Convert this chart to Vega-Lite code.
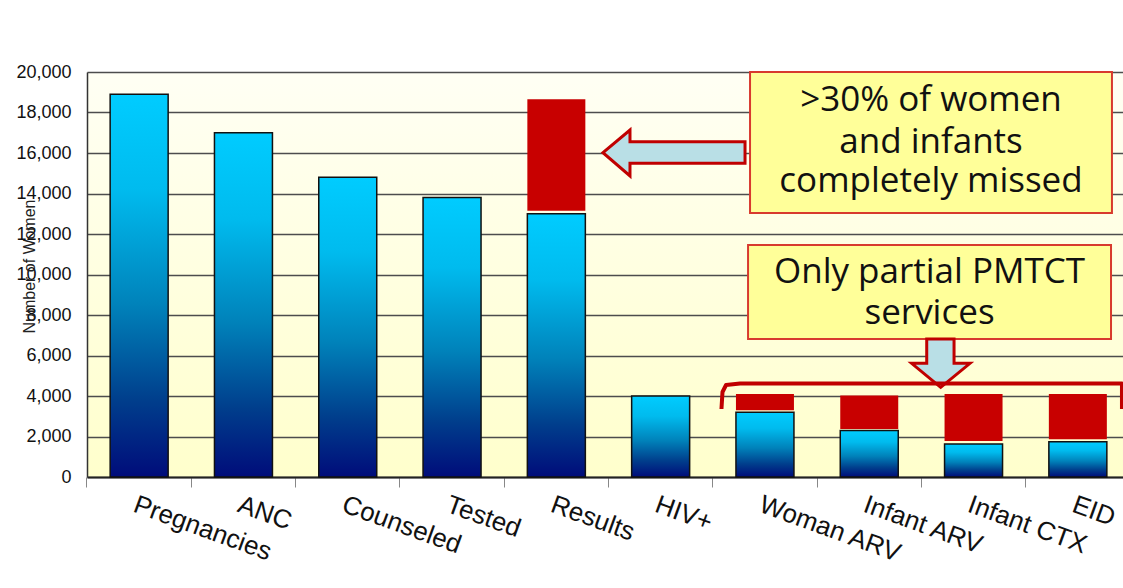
{
  "$schema": "https://vega.github.io/schema/vega-lite/v6.json",
  "autosize": {"type": "none"},
  "padding": {"left": 87, "top": 72, "right": 0, "bottom": 111},
  "width": 1036,
  "height": 405,
  "background": "#FFFFFF",
  "config": {
    "view": {
      "stroke": null,
      "fill": {"gradient": "linear", "x1": 0, "y1": 0, "x2": 0, "y2": 1,
        "stops": [{"offset": 0, "color": "#FFFFF4"}, {"offset": 1, "color": "#FFFFCC"}]}
    },
    "axisY": {
      "values": [0, 2000, 4000, 6000, 8000, 10000, 12000, 14000, 16000, 18000, 20000],
      "format": ",d",
      "grid": true, "gridColor": "#4d4d4d", "gridWidth": 1.3,
      "domain": true, "domainColor": "#333333", "domainWidth": 1.5,
      "ticks": false,
      "labelFont": "Liberation Sans", "labelFontSize": 18, "labelColor": "#111111", "labelPadding": 16,
      "titleFont": "Liberation Sans", "titleFontSize": 16, "titleFontWeight": "normal", "titleColor": "#222222",
      "titleAngle": -90, "titleAlign": "center", "titleBaseline": "middle", "titleX": -58, "titleY": 194
    }
  },
  "datasets": {
    "bars": [
      {"cat": "Pregnancies", "blue": 18900},
      {"cat": "ANC", "blue": 17000},
      {"cat": "Counseled", "blue": 14800},
      {"cat": "Tested", "blue": 13800},
      {"cat": "Results", "blue": 13000, "red0": 13150, "red1": 18650},
      {"cat": "HIV+", "blue": 4000},
      {"cat": "Woman ARV", "blue": 3200, "red0": 3300, "red1": 4100},
      {"cat": "Infant ARV", "blue": 2300, "red0": 2370, "red1": 4030},
      {"cat": "Infant CTX", "blue": 1630, "red0": 1780, "red1": 4100},
      {"cat": "EID", "blue": 1740, "red0": 1860, "red1": 4100}
    ],
    "boxes": [
      {"u0": 6.357, "u1": 9.827, "v0": 13037, "v1": 20000},
      {"u0": 6.338, "u1": 9.818, "v0": 6815, "v1": 11457}
    ],
    "texts": [
      {"u": 8.092, "v": 18617, "t": ">30% of women"},
      {"u": 8.092, "v": 16542, "t": "and infants"},
      {"u": 8.092, "v": 14616, "t": "completely missed"},
      {"u": 8.078, "v": 10123, "t": "Only partial PMTCT"},
      {"u": 8.078, "v": 8098, "t": "services"}
    ],
    "arrowLeft": [
      {"i": 0, "u": 4.947, "v": 16014},
      {"i": 1, "u": 5.206, "v": 17136},
      {"i": 2, "u": 5.206, "v": 16557},
      {"i": 3, "u": 6.309, "v": 16557},
      {"i": 4, "u": 6.309, "v": 15491},
      {"i": 5, "u": 5.206, "v": 15491},
      {"i": 6, "u": 5.206, "v": 14864}
    ],
    "arrowDown": [
      {"i": 0, "u": 8.051, "v": 6815},
      {"i": 1, "u": 8.313, "v": 6815},
      {"i": 2, "u": 8.313, "v": 5614},
      {"i": 3, "u": 8.466, "v": 5614},
      {"i": 4, "u": 8.185, "v": 4429},
      {"i": 5, "u": 7.906, "v": 5614},
      {"i": 6, "u": 8.051, "v": 5614}
    ],
    "bracket": [
      {"i": 0, "u": 6.083, "v": 3358},
      {"i": 1, "u": 6.093, "v": 4198},
      {"i": 2, "u": 6.127, "v": 4543},
      {"i": 3, "u": 6.261, "v": 4617},
      {"i": 4, "u": 9.923, "v": 4617},
      {"i": 5, "u": 9.923, "v": 3358}
    ]
  },
  "layer": [
    {
      "data": {"name": "bars"},
      "encoding": {
        "x": {
          "field": "cat", "type": "nominal", "sort": null,
          "scale": {"range": [0, 1043], "paddingInner": 0.444, "paddingOuter": 0.222},
          "axis": {
            "title": null, "bandPosition": -0.4, "labelOffset": 0,
            "labelAngle": 20, "labelAlign": "left", "labelBaseline": "top",
            "labelFont": "Liberation Sans", "labelFontSize": 26, "labelColor": "#111111",
            "labelPadding": 4, "ticks": true, "tickSize": 10, "tickColor": "#888888",
            "domain": true, "domainColor": "#222222", "domainWidth": 2,
            "grid": false, "labelOverlap": false
          }
        }
      },
      "layer": [
        {
          "mark": {
            "type": "bar",
            "stroke": "#111111", "strokeWidth": 1.5,
            "fill": {"gradient": "linear", "x1": 0, "y1": 0, "x2": 0, "y2": 1,
              "stops": [
                {"offset": 0, "color": "#00CCFF"},
                {"offset": 0.25, "color": "#00BBEE"},
                {"offset": 0.55, "color": "#0082BA"},
                {"offset": 0.8, "color": "#003E8C"},
                {"offset": 1, "color": "#000C7A"}
              ]}
          },
          "encoding": {
            "y": {
              "field": "blue", "type": "quantitative",
              "scale": {"domain": [0, 20000], "nice": false},
              "title": "Number of Women"
            }
          }
        },
        {
          "transform": [{"filter": "isValid(datum.red1)"}],
          "mark": {"type": "bar", "fill": "#C80000"},
          "encoding": {
            "y": {"field": "red1", "type": "quantitative", "title": "Number of Women"},
            "y2": {"field": "red0"}
          }
        }
      ]
    },
    {
      "encoding": {
        "x": {"field": "u", "type": "quantitative", "scale": {"domain": [0, 10], "range": [0, 1043]}, "axis": null},
        "y": {"field": "v", "type": "quantitative", "title": "Number of Women"}
      },
      "layer": [
        {
          "data": {"name": "boxes"},
          "mark": {"type": "rect", "fill": "#FFFF99", "stroke": "#D83A2E", "strokeWidth": 2},
          "encoding": {
            "x": {"field": "u0", "type": "quantitative", "scale": {"domain": [0, 10], "range": [0, 1043]}, "axis": null},
            "x2": {"field": "u1"},
            "y": {"field": "v0", "type": "quantitative", "title": "Number of Women"},
            "y2": {"field": "v1"}
          }
        },
        {
          "data": {"name": "texts"},
          "mark": {"type": "text", "font": "Open Sans", "fontSize": 35, "color": "#111111", "align": "center", "baseline": "middle"},
          "encoding": {"text": {"field": "t"}}
        },
        {
          "data": {"name": "arrowLeft"},
          "mark": {"type": "line", "interpolate": "linear-closed", "fill": "#B9DFE6", "stroke": "#C00000", "strokeWidth": 3, "strokeJoin": "miter"},
          "encoding": {"order": {"field": "i", "type": "quantitative"}}
        },
        {
          "data": {"name": "arrowDown"},
          "mark": {"type": "line", "interpolate": "linear-closed", "fill": "#B9DFE6", "stroke": "#C00000", "strokeWidth": 3, "strokeJoin": "miter"},
          "encoding": {"order": {"field": "i", "type": "quantitative"}}
        },
        {
          "data": {"name": "bracket"},
          "mark": {"type": "line", "stroke": "#C00000", "strokeWidth": 4, "strokeJoin": "round"},
          "encoding": {"order": {"field": "i", "type": "quantitative"}}
        }
      ]
    }
  ],
  "resolve": {"scale": {"x": "independent"}, "axis": {"x": "independent"}}
}
